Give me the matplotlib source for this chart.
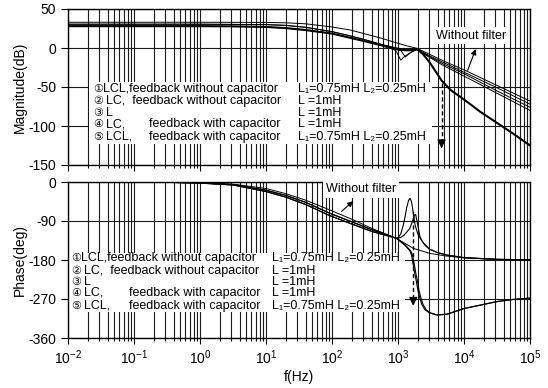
import numpy as np
import matplotlib.pyplot as plt
from matplotlib.patches import Rectangle
from matplotlib.ticker import LogLocator, NullFormatter

plt.rcParams['font.family'] = ['Liberation Sans', 'DejaVu Sans', 'Noto Sans CJK SC']
plt.rcParams['mathtext.fontset'] = 'custom'
plt.rcParams['mathtext.rm'] = 'Liberation Sans'
plt.rcParams['mathtext.it'] = 'Liberation Sans:italic'
plt.rcParams['axes.unicode_minus'] = False

# ---- magnitude curves (Hz, dB) ----
f_mag_lcl = [0.01, 1, 3, 10, 20, 40, 100, 190, 320, 560, 850, 1100, 1400, 1700,
             1950, 2400, 3050, 4600, 6300, 10000, 17800, 31600, 56000, 100000]
mag_lcl = [28, 28, 27.8, 27, 25.5, 23, 18.5, 13, 8.5, 3.5, -1, -2.5, -3, -2.5,
           -1.5, -8, -19, -42, -54, -66, -82, -96, -110, -125]

f_mag_l = [0.01, 1, 10, 20, 40, 100, 190, 320, 560, 1000, 1400, 1950, 3000,
           5000, 10000, 31600, 100000]
mag_l = [33, 33, 32.8, 32.3, 31, 27, 23, 18, 12.5, 6, 2.5, -0.5, -8,
         -17, -28, -48, -68]

f_mag_lc = [0.01, 1, 10, 20, 40, 100, 190, 320, 560, 850, 1200, 1950, 3000,
            5000, 10000, 31600, 100000]
mag_lc = [30.5, 30.5, 30, 29, 26.5, 21, 15.5, 10.5, 4.5, 1, -1.5, -1.5, -10,
          -19, -31, -51, -72]

f_mag_lc_cap = [0.01, 1, 10, 20, 40, 100, 190, 320, 560, 850, 950, 1100, 1250,
                1450, 1700, 1950, 3000, 5000, 10000, 31600, 100000]
mag_lc_cap = [28, 28, 27, 25.5, 23, 18.5, 13, 8.5, 3.5, -1, -5, -15.5, -11,
              -7.5, -4, -2, -11, -21, -33, -55, -76]

f_mag_lcl_cap = [0.01, 1, 10, 20, 40, 100, 190, 320, 560, 850, 1100, 1290, 1450,
                 1550, 1750, 1950, 3000, 5000, 10000, 31600, 100000]
mag_lcl_cap = [30.5, 30.5, 30, 29, 26.5, 21, 15.5, 10.5, 4.5, 0.5, -3, -11.5, -8,
               -5.6, -3.5, -2, -12, -23, -36, -58, -80]

# ---- phase curves (Hz, deg) ----
f_ph_l = [0.01, 0.3, 1, 3.2, 10, 20, 40, 93, 200, 400, 950, 1700, 3000, 5500,
          10000, 31600, 100000]
ph_l = [0, -0.5, -1.5, -5, -15, -27, -42, -64.6, -86, -107, -130, -153, -164.6,
        -171, -175, -178.5, -179.5]

f_ph_lc_cap = [0.01, 0.3, 1, 3.2, 10, 20, 40, 93, 200, 400, 950, 1010, 1100, 1200,
               1280, 1350, 1450, 1520, 1600, 1700, 1820, 2000, 2140, 2400, 3000,
               4000, 5500, 10000, 31600, 100000]
ph_lc_cap = [0, -0.6, -2, -6, -19, -31, -47, -72.3, -92, -110, -130, -128, -120,
             -100, -80, -60, -42, -37.7, -45, -70, -100, -120, -128, -140, -155,
             -163, -168.5, -174.6, -178.5, -179.5]

f_ph_lcl_cap = [0.01, 0.3, 1, 3.2, 10, 20, 40, 93, 200, 400, 950, 1100, 1250, 1350,
                1500, 1650, 1780, 1850, 1950, 2140, 2290, 2600, 3000, 4000, 5500,
                10000, 31600, 100000]
ph_lcl_cap = [0, -0.7, -2.5, -7, -22, -35, -52, -77.7, -97, -114, -130, -128, -122,
              -116, -108, -92, -76, -75, -92, -125, -135, -147, -155, -163, -168.5,
              -174.6, -178.5, -179.5]

f_ph_lcl = [0.01, 0.3, 1, 3.2, 10, 20, 40, 93, 200, 400, 950, 1250, 1500, 1600,
            1700, 1800, 1900, 2000, 2140, 2300, 2570, 3000, 3850, 5500, 10000,
            17800, 31600, 56000, 100000]
ph_lcl = [0, -0.6, -2, -6, -19, -31, -47, -72.3, -92, -110, -130, -145, -158, -168,
          -191, -212, -230, -250, -268, -283, -295, -302, -307, -305, -292,
          -284, -276, -271, -268]

f_ph_lc = [0.01, 0.3, 1, 3.2, 10, 20, 40, 93, 200, 400, 950, 1300, 1560, 1660,
           1770, 1870, 1980, 2080, 2230, 2400, 2670, 3100, 3950, 5600, 10000,
           17800, 31600, 56000, 100000]
ph_lc = [0, -0.7, -2.5, -7, -22, -35, -52, -77.7, -97, -114, -130, -146, -159, -169,
         -191, -212, -230, -250, -268, -283, -295, -302, -307, -305, -292,
         -284, -276, -271, -268]

legend_marks = ['\u2460', '\u2461', '\u2462', '\u2463', '\u2464']
legend_left = ['LCL,feedback without capacitor', 'LC,  feedback without capacitor',
               'L', 'LC,', 'LCL,']
legend_gap = [7, 9.5, 9.5, 9.5, 9.5]
legend_right = ['L\u2081=0.75mH L\u2082=0.25mH', 'L =1mH', 'L =1mH', 'L =1mH',
                'L\u2081=0.75mH L\u2082=0.25mH']

fig = plt.figure(figsize=(5.48, 3.88), dpi=100)
ax1 = fig.add_axes([68 / 548, 1 - 165 / 388, 462 / 548, 156 / 388])
ax2 = fig.add_axes([68 / 548, 1 - 338 / 388, 462 / 548, 156 / 388])


def style_axes(ax):
    ax.set_xscale('log')
    ax.set_xlim(1e-2, 1e5)
    ax.set_axisbelow(True)
    ax.set_xticks(10.0 ** np.arange(-2, 6))
    ax.xaxis.set_minor_locator(LogLocator(base=10, subs=np.arange(2, 10), numticks=20))
    ax.xaxis.set_minor_formatter(NullFormatter())
    ax.grid(True, which='both', axis='x', color='#1a1a1a', lw=0.8)
    ax.grid(True, which='major', axis='y', color='#1a1a1a', lw=0.8)
    ax.tick_params(which='major', direction='out', length=4, width=0.8, labelsize=10)
    ax.tick_params(which='minor', direction='out', length=2.5, width=0.8)
    ax.tick_params(axis='y', which='major', length=5)
    ax.yaxis.set_label_coords(-0.088, 0.5)
    for s in ax.spines.values():
        s.set_linewidth(1.0)


def legend_block(ax, rows_y, x_left, x_feed, x_right, box):
    ax.add_patch(Rectangle((box[0], box[1]), box[2] - box[0], box[3] - box[1],
                           facecolor='white', edgecolor='none', zorder=1.5))
    for i, y in enumerate(rows_y):
        ax.text(x_left, y, legend_marks[i], fontsize=8, va='center', zorder=3,
                family=['DejaVu Sans', 'Noto Sans CJK SC'])
        ax.annotate(legend_left[i], xy=(x_left, y), xytext=(legend_gap[i], 0),
                    textcoords='offset points', fontsize=9, va='center', zorder=3)
        if i >= 3:
            ax.text(x_feed, y, 'feedback with capacitor', fontsize=9, va='center', zorder=3)
        ax.text(x_right, y, legend_right[i], fontsize=9, va='center', zorder=3)


# magnitude
style_axes(ax1)
ax1.plot(f_mag_l, mag_l, color='k', lw=0.7)
ax1.plot(f_mag_lc, mag_lc, color='k', lw=0.7)
ax1.plot(f_mag_lc_cap, mag_lc_cap, color='k', lw=0.7)
ax1.plot(f_mag_lcl_cap, mag_lcl_cap, color='k', lw=0.7)
ax1.plot(f_mag_lcl, mag_lcl, color='k', lw=1.5)
ax1.set_ylim(-150, 50)
ax1.set_yticks([50, 0, -50, -100, -150])
ax1.tick_params(labelbottom=False)
ax1.set_ylabel('Magnitude(dB)', fontsize=10)
legend_block(ax1, [-52.5, -67.7, -83, -98, -113.5], 0.024, 0.17, 31,
             (0.021, -123, 3300, -44))
ax1.text(12900, 15.8, 'Without filter', fontsize=9, ha='center', va='center', zorder=3,
         bbox=dict(facecolor='white', edgecolor='none', pad=2))
ax1.annotate('', xy=(15500, 2), xytext=(11000, -32),
             arrowprops=dict(arrowstyle='-|>', color='k', lw=0.8, mutation_scale=8))
ax1.plot([4570, 4570], [-45, -124], color='k', lw=1, ls=(0, (3, 2)))
ax1.annotate('', xy=(4570, -132), xytext=(4570, -122),
             arrowprops=dict(arrowstyle='-|>', color='k', lw=1, mutation_scale=12))

# phase
style_axes(ax2)
ax2.plot(f_ph_l, ph_l, color='k', lw=0.7)
ax2.plot(f_ph_lc_cap, ph_lc_cap, color='k', lw=0.8)
ax2.plot(f_ph_lcl_cap, ph_lcl_cap, color='k', lw=0.8)
ax2.plot(f_ph_lcl, ph_lcl, color='k', lw=0.8)
ax2.plot(f_ph_lc, ph_lc, color='k', lw=0.8)
ax2.set_ylim(-360, 0)
ax2.set_yticks([0, -90, -180, -270, -360])
ax2.set_ylabel('Phase(deg)', fontsize=10)
ax2.set_xlabel('f(Hz)', fontsize=10, labelpad=2)
legend_block(ax2, [-176, -205, -230, -256, -286], 0.0112, 0.083, 12.3,
             (0.0105, -300, 1290, -163))
ax2.text(275, -17, 'Without filter', fontsize=9, ha='center', va='center', zorder=3,
         bbox=dict(facecolor='white', edgecolor='none', pad=2))
ax2.annotate('', xy=(225, -40), xytext=(130, -72),
             arrowprops=dict(arrowstyle='-|>', color='k', lw=0.8, mutation_scale=8))
ax2.plot([1700, 1700], [-66, -280], color='k', lw=1, ls=(0, (3, 2)))
ax2.annotate('', xy=(1700, -292), xytext=(1700, -270),
             arrowprops=dict(arrowstyle='-|>', color='k', lw=1, mutation_scale=12))

fig.savefig('out.png', dpi=100)
